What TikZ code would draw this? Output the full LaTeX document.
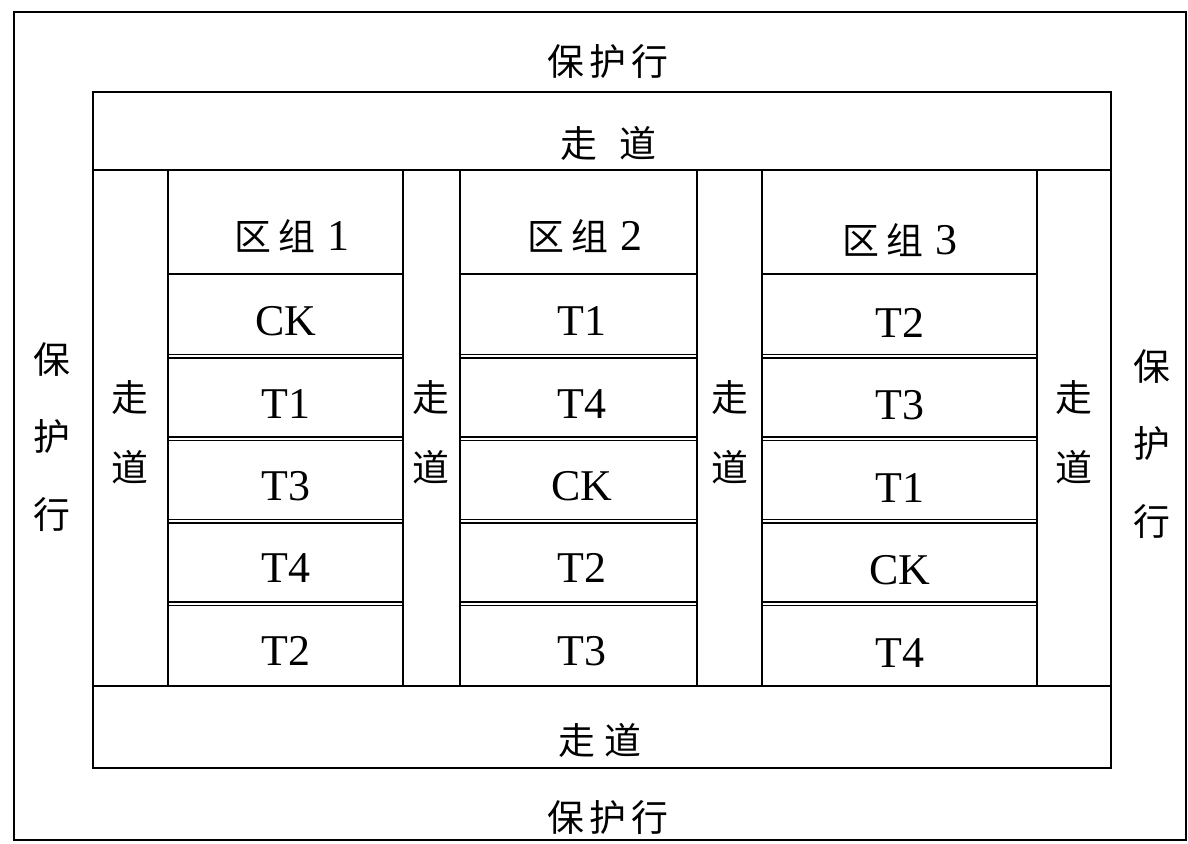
\documentclass[tikz,border=0pt]{standalone}
\usepackage{fontspec}
\setmainfont{Liberation Serif}
\newfontfamily\cjk{Noto Sans CJK SC}
\begin{document}
\begin{tikzpicture}[x=0.02cm,y=-0.02cm,line width=1pt,
  lab/.style={font=\fontsize{25}{30}\selectfont, inner sep=0pt},
  cn/.style={font=\cjk\fontsize{21}{26}\selectfont, inner sep=0pt},
  vprot/.style={font=\cjk\fontsize{21}{44}\selectfont, align=center, inner sep=0pt},
  vwalk/.style={font=\cjk\fontsize{21}{40}\selectfont, align=center, inner sep=0pt},
  frame/.style={draw=black}]
\newcommand{\hdr}[1]{{\cjk\fontsize{21}{25}\selectfont 区\hspace{4pt}组}\hspace{7pt}#1}
\useasboundingbox (0,0) rectangle (1188,843);
% outer frame and field
\draw[frame] (14,12) rectangle (1186,840);
\draw[frame] (93,92) rectangle (1111,768);
\draw[frame] (93,170) -- (1111,170);
\draw[frame] (93,686) -- (1111,686);
\foreach \x in {168,403,460,697,762,1037}
  \draw[frame] (\x,170) -- (\x,686);
% header lines and double plot borders
\foreach \a/\b in {168/403,460/697,762/1037}{
  \draw[frame] (\a,274) -- (\b,274);
  \foreach \k in {1,2,3,4}{
    \pgfmathsetmacro{\yy}{274+82.4*\k}
    \draw[frame] (\a,\yy-1.8) -- (\b,\yy-1.8);
    \draw[frame] (\a,\yy+1.8) -- (\b,\yy+1.8);
  }
}
% protection rows
\node[cn] (ptop) at (608,62) {保\hspace{3pt}护\hspace{3pt}行};
\node[cn] (pbot) at (608,818) {保\hspace{3pt}护\hspace{3pt}行};
\node[vprot] (pleft) at (52,437) {保\\护\\行};
\node[vprot] (pright) at (1152,444) {保\\护\\行};
% walkways
\node[cn] (wtop) at (608,143) {走\hspace{0.6em}道};
\node[cn] (wbot) at (600,740) {走\hspace{5pt}道};
\node[vwalk] (w1) at (130,432) {走\\道};
\node[vwalk] (w2) at (431,432) {走\\道};
\node[vwalk] (w3) at (730,432) {走\\道};
\node[vwalk] (w4) at (1074,432) {走\\道};
% block headers
\node[lab] (h1) at (292,236) {\hdr{1}};
\node[lab] (h2) at (585,236) {\hdr{2}};
\node[lab] (h3) at (900,240) {\hdr{3}};
% plots
\foreach \i/\t in {1/CK,2/T1,3/T3,4/T4,5/T2}
  \node[lab] (a\i) at (286,{280+82.4*(\i-0.5)}) {\t};
\foreach \i/\t in {1/T1,2/T4,3/CK,4/T2,5/T3}
  \node[lab] (b\i) at (582,{280+82.4*(\i-0.5)}) {\t};
\foreach \i/\t in {1/T2,2/T3,3/T1,4/CK,5/T4}
  \node[lab] (c\i) at (900,{282+82.4*(\i-0.5)}) {\t};
\end{tikzpicture}
\end{document}
